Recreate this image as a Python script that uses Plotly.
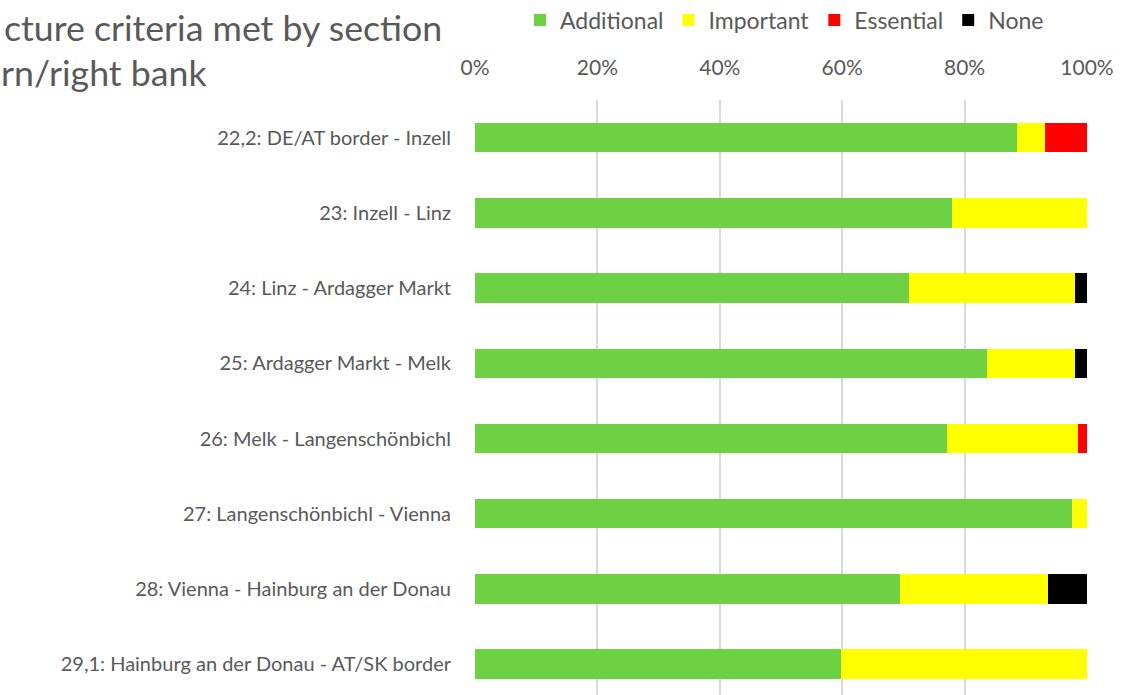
import plotly.graph_objects as go

sections = [
    "22,2: DE/AT border - Inzell",
    "23: Inzell - Linz",
    "24: Linz - Ardagger Markt",
    "25: Ardagger Markt - Melk",
    "26: Melk - Langenschönbichl",
    "27: Langenschönbichl - Vienna",
    "28: Vienna - Hainburg an der Donau",
    "29,1: Hainburg an der Donau - AT/SK border",
]
additional = [88.6, 78.0, 70.9, 83.6, 77.1, 97.6, 69.4, 59.8]
important = [4.5, 22.0, 27.1, 14.4, 21.4, 2.4, 24.3, 40.2]
essential = [6.9, 0.0, 0.0, 0.0, 1.5, 0.0, 0.0, 0.0]
none_ = [0.0, 0.0, 2.0, 2.0, 0.0, 0.0, 6.3, 0.0]
tick_vals = [0, 20, 40, 60, 80, 100]
tick_text = ["0%", "20%", "40%", "60%", "80%", "100%"]

series = [
    ("Additional", additional, "#6ED143"),
    ("Important", important, "#FFFF00"),
    ("Essential", essential, "#FF0000"),
    ("None", none_, "#000000"),
]

FONT = "Lato"
GREY = "#595959"

fig = go.Figure()
for name, vals, col in series:
    fig.add_trace(go.Bar(
        y=sections, x=vals, name=name, orientation="h",
        marker=dict(color=col, line=dict(width=0)),
    ))

fig.update_layout(
    width=1127, height=695,
    barmode="stack", bargap=0.61,
    plot_bgcolor="white", paper_bgcolor="white",
    margin=dict(l=475, r=40, t=100, b=0, autoexpand=False),
    font=dict(family=FONT, size=20, color=GREY),
    legend=dict(
        orientation="h", x=(520 - 475) / 612, xanchor="left",
        y=1 + 80 / 595, yanchor="middle",
        font=dict(size=23, color=GREY), itemwidth=30, traceorder="normal",
    ),
    xaxis=dict(
        side="top", range=[0, 100], tickmode="array",
        tickvals=tick_vals, ticktext=tick_text,
        showgrid=True, gridcolor="#D9D9D9", gridwidth=2,
        zeroline=False, showline=False, ticks="", ticklabelstandoff=20,
        tickfont=dict(size=21, color=GREY),
    ),
    yaxis=dict(
        type="category", categoryorder="array", categoryarray=sections,
        range=[7.41, -0.5], showgrid=False, zeroline=False, showline=False,
        ticks="", ticklabelstandoff=23, tickfont=dict(size=20, color=GREY),
    ),
    showlegend=True,
)

fig.add_annotation(text="cture criteria met by section", xref="paper", yref="paper",
                   x=-473 / 612, xanchor="left", y=1 + 72 / 595, yanchor="middle",
                   showarrow=False, font=dict(size=35.7, color=GREY, family=FONT))
fig.add_annotation(text="rn/right bank", xref="paper", yref="paper",
                   x=-476 / 612, xanchor="left", y=1 + 27 / 595, yanchor="middle",
                   showarrow=False, font=dict(size=35.7, color=GREY, family=FONT))

fig.write_html("out.html", config={"displayModeBar": False},
               post_script="document.body.style.margin='0px';document.body.style.overflow='hidden';")
